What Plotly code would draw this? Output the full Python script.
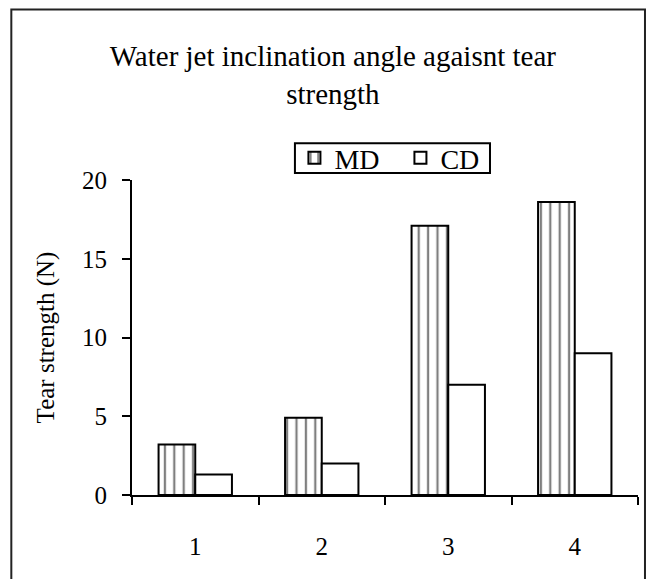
import plotly.graph_objects as go

categories = ["1", "2", "3", "4"]
md_values = [3.2, 4.9, 17.1, 18.6]
cd_values = [1.3, 2.0, 7.0, 9.0]
y_ticks = [0, 5, 10, 15, 20]

FONT = "Liberation Serif"

fig = go.Figure()
fig.add_trace(go.Bar(
    name="MD", x=categories, y=md_values,
    marker=dict(color="white", line=dict(color="black", width=2),
                pattern=dict(shape="|", size=9.4, solidity=0.24,
                             fgcolor="black", bgcolor="white")),
))
fig.add_trace(go.Bar(
    name="CD", x=categories, y=cd_values,
    marker=dict(color="white", line=dict(color="black", width=2)),
))

fig.update_layout(
    width=638, height=571,
    margin=dict(l=124, r=8, t=172, b=84),
    paper_bgcolor="white", plot_bgcolor="white",
    font=dict(family=FONT, size=24, color="black"),
    barmode="group", bargap=0.42, bargroupgap=0,
    title=dict(text="Water jet inclination angle agaisnt tear<br>strength",
               x=0.397, xref="paper", xanchor="center",
               y=0.898, yanchor="middle",
               font=dict(family=FONT, size=29, color="black")),
    legend=dict(orientation="h", x=0.321, y=1.070, xanchor="left", yanchor="middle",
                borderwidth=0, bgcolor="rgba(0,0,0,0)",
                font=dict(family=FONT, size=28, color="black"),
                itemwidth=30, entrywidth=61, entrywidthmode="pixels",
                tracegroupgap=0),
    showlegend=True,
)

fig.update_xaxes(
    type="category", tickson="boundaries", ticks="outside", ticklen=8,
    tickwidth=2, tickcolor="black", showline=True, linewidth=2, linecolor="black",
    showgrid=False, zeroline=False, ticklabelstandoff=28,
    tickfont=dict(family=FONT, size=25, color="black"),
)
fig.update_yaxes(
    range=[0, 20], tickvals=y_ticks, ticks="outside", ticklen=8, tickwidth=2,
    tickcolor="black", showline=True, linewidth=2, linecolor="black",
    showgrid=False, zeroline=False, ticklabelstandoff=10,
    tickfont=dict(family=FONT, size=25, color="black"),
    title=dict(text="Tear strength (N)", standoff=20,
               font=dict(family=FONT, size=25, color="black")),
)

# legend frame
fig.add_shape(type="rect", xref="paper", yref="paper",
              x0=0.322, x1=0.7075, y0=1.022, y1=1.117,
              line=dict(color="black", width=2), fillcolor="white", layer="below")

# outer frame around the whole chart
fig.add_shape(type="rect", xref="paper", yref="paper",
              x0=-0.2385, x1=1.0138, y0=-0.4, y1=1.541,
              line=dict(color="#222", width=2), layer="below")

fig.write_html("out.html")
